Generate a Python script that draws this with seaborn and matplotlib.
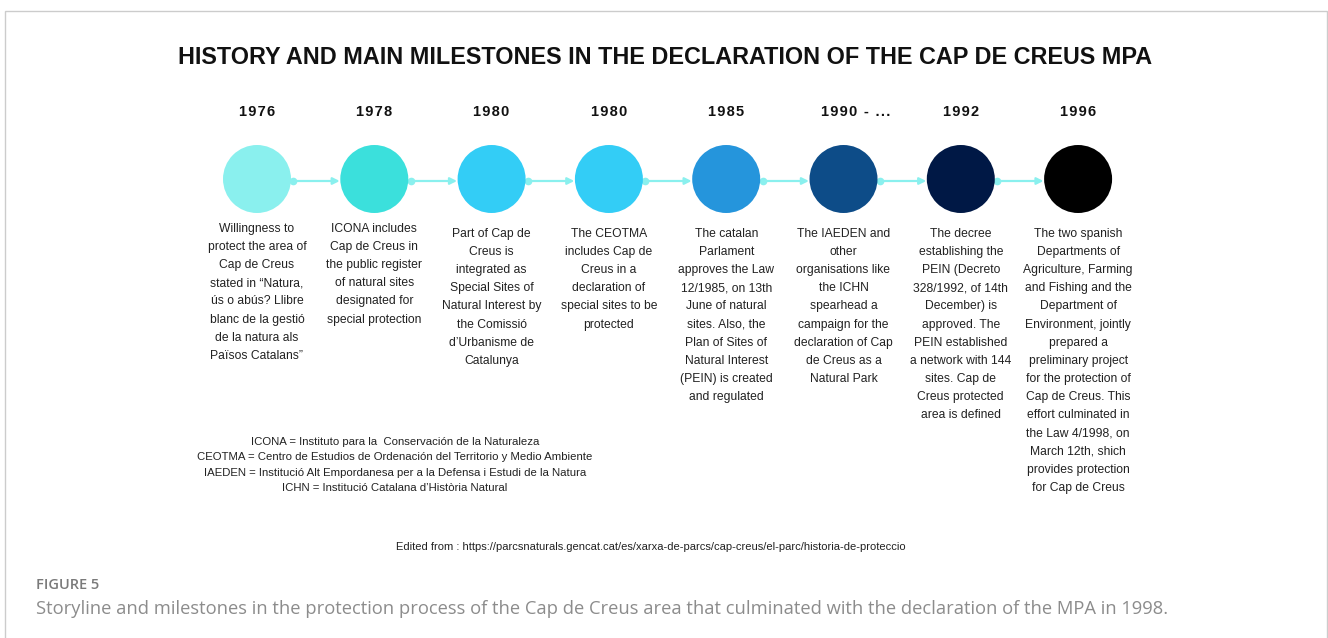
import numpy as np
import pandas as pd
import matplotlib.pyplot as plt
import seaborn as sns
from matplotlib.patches import Rectangle

# ── Data ──────────────────────────────────────────────────────────────────────
TITLE = "HISTORY AND MAIN MILESTONES IN THE DECLARATION OF THE CAP DE CREUS MPA"

years = ["1976", "1978", "1980", "1980", "1985", "1990 - ...", "1992", "1996"]

circle_colors = ["#8af0ee", "#3be0dc", "#33cdf6", "#33cdf6",
                 "#2595dc", "#0d4c88", "#001845", "#000000"]

descriptions = [
    "Willingness to\nprotect the area of\nCap de Creus\nstated in “Natura,\n"
    "ús o abús? Llibre\nblanc de la gestió\nde la natura als\nPaïsos Catalans”",
    "ICONA includes\nCap de Creus in\nthe public register\nof natural sites\n"
    "designated for\nspecial protection",
    "Part of Cap de\nCreus is\nintegrated as\nSpecial Sites of\n"
    "Natural Interest by\nthe Comissió\nd’Urbanisme de\nCatalunya",
    "The CEOTMA\nincludes Cap de\nCreus in a\ndeclaration of\n"
    "special sites to be\nprotected",
    "The catalan\nParlament\napproves the Law\n12/1985, on 13th\n"
    "June of natural\nsites. Also, the\nPlan of Sites of\nNatural Interest\n"
    "(PEIN) is created\nand regulated",
    "The IAEDEN and\nother\norganisations like\nthe ICHN\nspearhead a\n"
    "campaign for the\ndeclaration of Cap\nde Creus as a\nNatural Park",
    "The decree\nestablishing the\nPEIN (Decreto\n328/1992, of 14th\n"
    "December) is\napproved. The\nPEIN established\na network with 144\n"
    "sites. Cap de\nCreus protected\narea is defined",
    "The two spanish\nDepartments of\nAgriculture, Farming\nand Fishing and the\n"
    "Department of\nEnvironment, jointly\nprepared a\npreliminary project\n"
    "for the protection of\nCap de Creus. This\neffort culminated in\n"
    "the Law 4/1998, on\nMarch 12th, shich\nprovides protection\nfor Cap de Creus",
]

acronyms = [
    "ICONA = Instituto para la  Conservación de la Naturaleza",
    "CEOTMA = Centro de Estudios de Ordenación del Territorio y Medio Ambiente",
    "IAEDEN = Institució Alt Empordanesa per a la Defensa i Estudi de la Natura",
    "ICHN = Institució Catalana d’Història Natural",
]

SOURCE = ("Edited from : https://parcsnaturals.gencat.cat/es/xarxa-de-parcs/"
          "cap-creus/el-parc/historia-de-proteccio")
FIG_LABEL = "FIGURE 5"
CAPTION = ("Storyline and milestones in the protection process of the Cap de Creus "
           "area that culminated with the declaration of the MPA in 1998.")

df = pd.DataFrame({
    "step": np.arange(len(years)),
    "level": np.zeros(len(years)),
    "year": years,
    "key": [f"m{i}" for i in range(len(years))],
})

# ── Layout (pixels of a 1328x638 canvas) ─────────────────────────────────────
W, H = 1328, 638
X0_PX, STEP_PX = 257, 117.3     # first circle centre, spacing
ROW_PX = 179                    # circle row
RADIUS_PX = 34
text_top_px = [223, 223, 228, 228, 228, 228, 228, 228]
YEAR_PX = 112

sns.set_theme(style="white")
plt.rcParams["font.family"] = ["Liberation Sans", "DejaVu Sans"]

fig = plt.figure(figsize=(W / 100, H / 100), dpi=100)
ax = fig.add_axes([0, 0, 1, 1])
ax.set_xlim(-X0_PX / STEP_PX, (W - X0_PX) / STEP_PX)
ax.set_ylim(-(H - ROW_PX) / STEP_PX, ROW_PX / STEP_PX)
ax.axis("off")


def py(px):
    # pixel row -> data y
    return (ROW_PX - px) / STEP_PX


def spaced(s):
    # tracked-out lettering, like the original headings
    return "\u200a".join(s)


r = RADIUS_PX / STEP_PX

# arrows between milestones
for i in range(len(years) - 1):
    ax.annotate("", xy=(i + 1 - r - 0.005, py(181)), xytext=(i + r + 0.02, py(181)),
                arrowprops=dict(arrowstyle="-|>", color="#8af0ee", lw=1.6,
                                mutation_scale=10, shrinkA=0, shrinkB=0))
    ax.plot(i + r + 0.02, py(181), "o", color="#8af0ee", ms=4.5, zorder=3)

# milestone circles
d_pt = 2 * RADIUS_PX * 0.72
sns.scatterplot(data=df, x="step", y="level", hue="key",
                palette=dict(zip(df["key"], circle_colors)),
                s=d_pt ** 2, edgecolor="none", legend=False, ax=ax, zorder=4)

for i, (yr, desc) in enumerate(zip(years, descriptions)):
    ax.text(i + (0.1 if yr.endswith("...") else 0), py(YEAR_PX), spaced(yr),
            ha="center", va="center", fontsize=10.5, fontweight="bold",
            color="#111111")
    ax.text(i, py(text_top_px[i]), desc, ha="center", va="top",
            fontsize=8.7, linespacing=1.68, color="#222222")

fig.text(665 / W, 1 - 58 / H, TITLE, ha="center", va="center",
         fontsize=16.8, fontweight="bold", color="#111111")

fig.text(395 / W, 1 - 437 / H, "\n".join(acronyms), ha="center", va="top",
         fontsize=8.2, linespacing=1.68, color="#222222")

fig.text(651 / W, 1 - 547 / H, SOURCE, ha="center", va="center",
         fontsize=8.0, color="#222222")

fig.text(36 / W, 1 - 585 / H, FIG_LABEL, ha="left", va="center",
         fontsize=10.5, fontweight="semibold", color="#7a7a7a",
         family=["Open Sans", "DejaVu Sans"])
fig.text(36 / W, 1 - 609 / H, CAPTION, ha="left", va="center",
         fontsize=13.2, color="#8c8c8c", family=["Open Sans", "DejaVu Sans"])

# light frame around the panel
fig.add_artist(Rectangle((4.5 / W, -0.05), (W - 6) / W, 1.05 - 11 / H,
                         transform=fig.transFigure, fill=False,
                         edgecolor="#cccccc", lw=1.0))

fig.savefig("out.png", dpi=100)
